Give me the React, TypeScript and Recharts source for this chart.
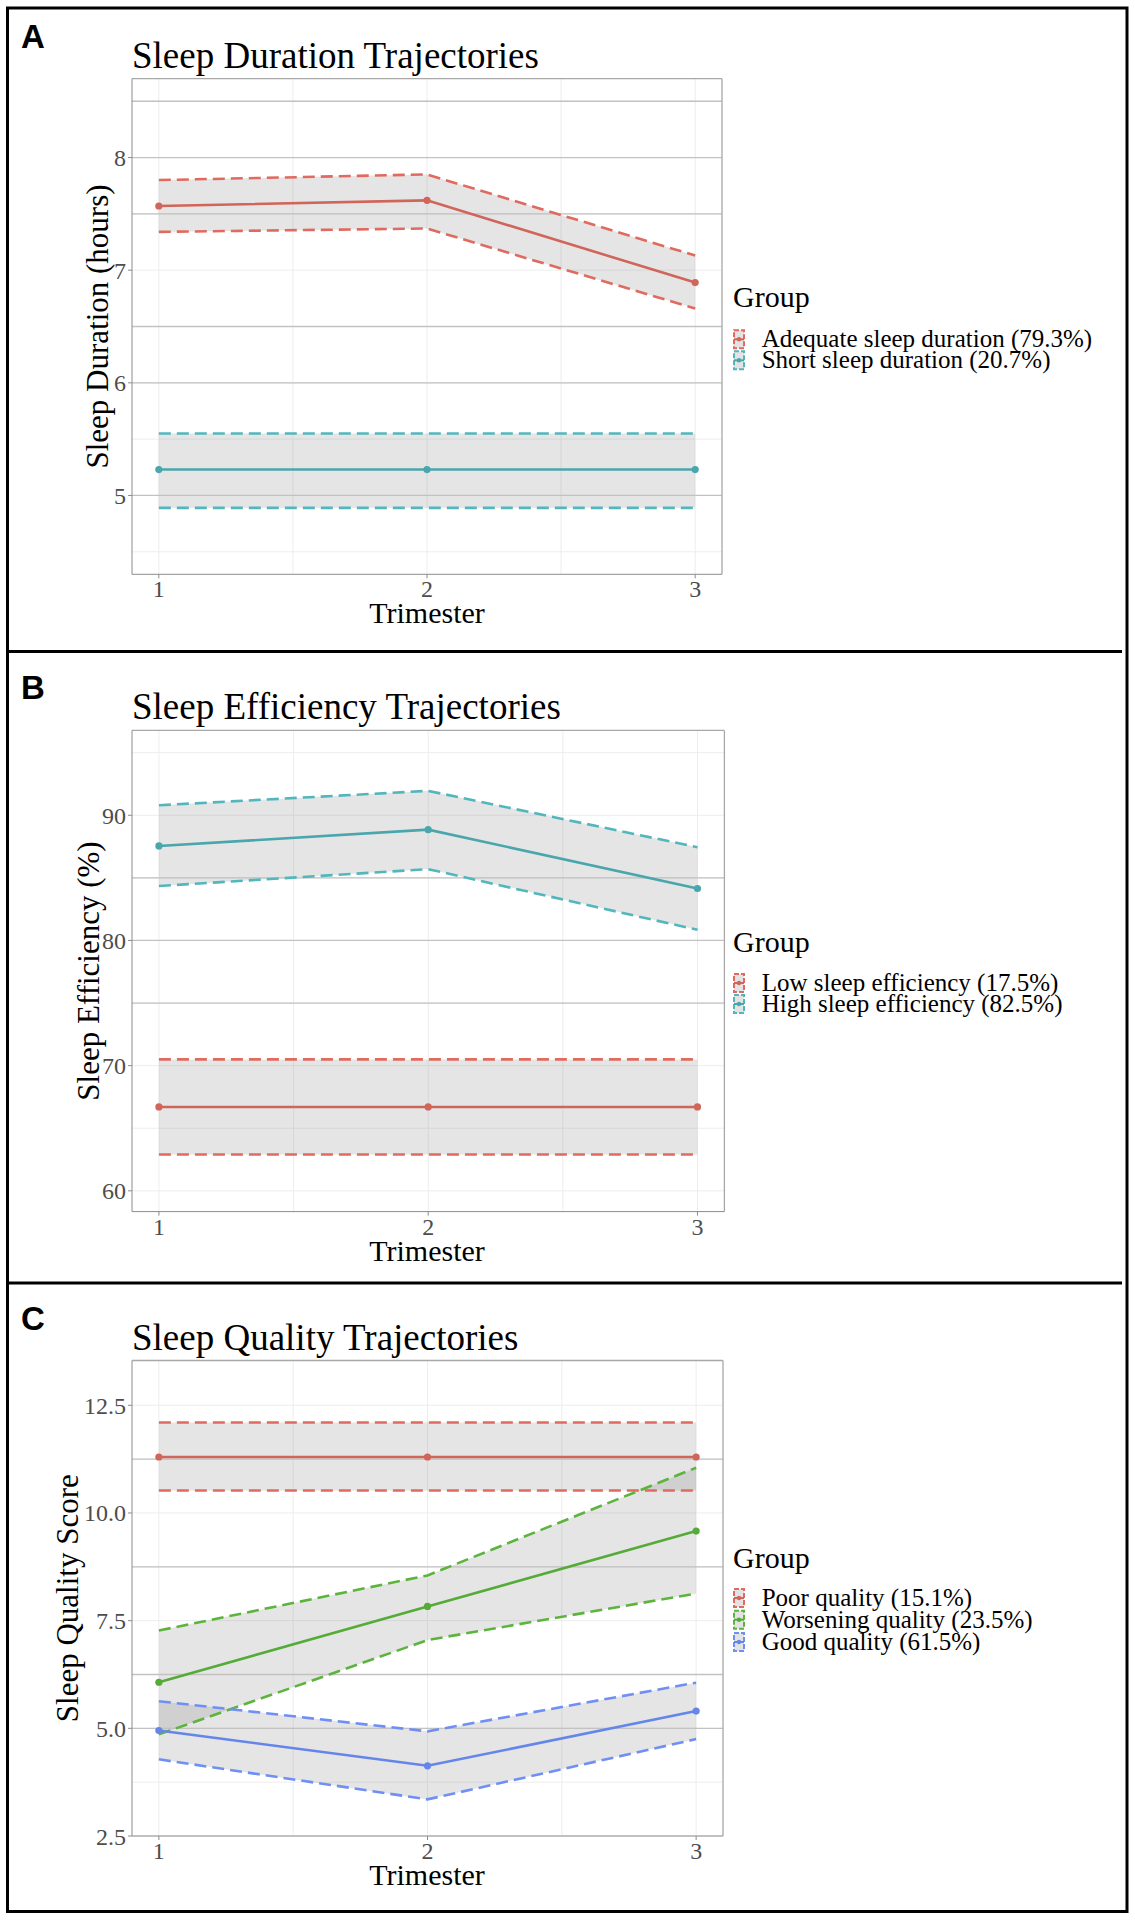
import {
  ComposedChart,
  Line,
  Area,
  XAxis,
  YAxis,
  CartesianGrid,
  ReferenceLine,
  Legend,
} from "recharts";

const SERIF = "'Liberation Serif', 'Times New Roman', serif";
const SANS = "'Liberation Sans', Arial, sans-serif";

const trimesters = [1, 2, 3];

// A: sleep duration (hours)
const adequateMean = [7.57, 7.62, 6.89];
const adequateLower = [7.34, 7.37, 6.66];
const adequateUpper = [7.8, 7.85, 7.13];
const shortMean = [5.23, 5.23, 5.23];
const shortLower = [4.89, 4.89, 4.89];
const shortUpper = [5.55, 5.55, 5.55];

// B: sleep efficiency (%)
const lowEffMean = [66.7, 66.7, 66.7];
const lowEffLower = [62.9, 62.9, 62.9];
const lowEffUpper = [70.5, 70.5, 70.5];
const highEffMean = [87.55, 88.85, 84.15];
const highEffLower = [84.35, 85.7, 80.85];
const highEffUpper = [90.8, 91.95, 87.45];

// C: sleep quality score
const poorMean = [11.3, 11.3, 11.3];
const poorLower = [10.52, 10.52, 10.52];
const poorUpper = [12.1, 12.1, 12.1];
const worseMean = [6.07, 7.83, 9.58];
const worseLower = [4.86, 7.05, 8.13];
const worseUpper = [7.27, 8.55, 11.05];
const goodMean = [4.95, 4.13, 5.4];
const goodLower = [4.28, 3.35, 4.75];
const goodUpper = [5.63, 4.93, 6.06];

// tick labels / grid values
const durationTicks = [5, 6, 7, 8];
const durationGrid = [4.5, 5, 5.5, 6, 6.5, 7, 7.5, 8, 8.5];
const durationDarkGrid = [5, 6, 6.5, 7.5, 8, 8.5];
const efficiencyTicks = [60, 70, 80, 90];
const efficiencyGrid = [60, 65, 70, 75, 80, 85, 90, 95];
const efficiencyDarkGrid = [75, 80, 85];
const qualityTicks = [2.5, 5, 7.5, 10, 12.5];
const qualityGrid = [2.5, 3.75, 5, 6.25, 7.5, 8.75, 10, 11.25, 12.5];
const qualityDarkGrid = [5, 6.25, 8.75, 11.25];
const xGrid = [1, 1.5, 2, 2.5, 3];

const RED = { line: "#d0655a", dash: "#e06a5f" };
const TEAL = { line: "#48a6ac", dash: "#52b6bd" };
const GREEN = { line: "#55ab38", dash: "#5cb43c" };
const BLUE = { line: "#6485ea", dash: "#6f8ff5" };

type Group = {
  key: string;
  name: string;
  line: string;
  dash: string;
  mean: number[];
  lower: number[];
  upper: number[];
};

type PanelConfig = {
  letter: string;
  title: string;
  yLabel: string;
  top: number;
  height: number;
  plotTop: number;
  xAxisH: number;
  right: number;
  domain: [number, number];
  ticks: number[];
  grid: number[];
  darkGrid: number[];
  fmt: (v: number) => string;
  groups: Group[];
  yLabelX: number;
  legendBase: number;
  legendItems: number[];
};

const buildRows = (groups: Group[]) =>
  trimesters.map((t, i) => {
    const row: Record<string, any> = { t };
    groups.forEach((g) => {
      row[g.key + "Mean"] = g.mean[i];
      row[g.key + "Lower"] = g.lower[i];
      row[g.key + "Upper"] = g.upper[i];
      row[g.key + "Band"] = [g.lower[i], g.upper[i]];
    });
    return row;
  });

const panels: PanelConfig[] = [
  {
    letter: "A",
    title: "Sleep Duration Trajectories",
    yLabel: "Sleep Duration (hours)",
    top: 0,
    height: 652,
    plotTop: 78.7,
    xAxisH: 77.7,
    right: 413,
    domain: [4.3, 8.7],
    ticks: durationTicks,
    grid: durationGrid,
    darkGrid: durationDarkGrid,
    fmt: (v) => String(v),
    groups: [
      { key: "adequate", name: "Adequate sleep duration (79.3%)", ...RED, mean: adequateMean, lower: adequateLower, upper: adequateUpper },
      { key: "short", name: "Short sleep duration (20.7%)", ...TEAL, mean: shortMean, lower: shortLower, upper: shortUpper },
    ],
    yLabelX: 108,
    legendBase: 306.7,
    legendItems: [347, 368],
  },
  {
    letter: "B",
    title: "Sleep Efficiency Trajectories",
    yLabel: "Sleep Efficiency (%)",
    top: 652,
    height: 631,
    plotTop: 78.4,
    xAxisH: 71.4,
    right: 410.6,
    domain: [58.34, 96.78],
    ticks: efficiencyTicks,
    grid: efficiencyGrid,
    darkGrid: efficiencyDarkGrid,
    fmt: (v) => String(v),
    groups: [
      { key: "low", name: "Low sleep efficiency (17.5%)", ...RED, mean: lowEffMean, lower: lowEffLower, upper: lowEffUpper },
      { key: "high", name: "High sleep efficiency (82.5%)", ...TEAL, mean: highEffMean, lower: highEffLower, upper: highEffUpper },
    ],
    yLabelX: 99,
    legendBase: 299.7,
    legendItems: [338.7, 359.7],
  },
  {
    letter: "C",
    title: "Sleep Quality Trajectories",
    yLabel: "Sleep Quality Score",
    top: 1283,
    height: 637,
    plotTop: 77.5,
    xAxisH: 84,
    right: 412,
    domain: [2.5, 13.54],
    ticks: qualityTicks,
    grid: qualityGrid,
    darkGrid: qualityDarkGrid,
    fmt: (v) => v.toFixed(1),
    groups: [
      { key: "poor", name: "Poor quality (15.1%)", ...RED, mean: poorMean, lower: poorLower, upper: poorUpper },
      { key: "worse", name: "Worsening quality (23.5%)", ...GREEN, mean: worseMean, lower: worseLower, upper: worseUpper },
      { key: "good", name: "Good quality (61.5%)", ...BLUE, mean: goodMean, lower: goodLower, upper: goodUpper },
    ],
    yLabelX: 78,
    legendBase: 285,
    legendItems: [323, 344.7, 367],
  },
];

// ggplot-ish key: ribbon box with dashed edges, line and point
const KeyGlyph = ({ y, g }: { y: number; g: Group }) => (
  <g>
    <rect x={9} y={y - 17} width={10} height={18} fill="#e3e3e3" stroke={g.dash} strokeWidth={2} strokeDasharray="5 2" />
    <line x1={9} x2={19} y1={y - 8} y2={y - 8} stroke={g.line} strokeWidth={2} />
    <circle cx={14} cy={y - 8} r={2.2} fill={g.line} />
  </g>
);

const GroupLegend = ({ cfg }: { cfg: PanelConfig }) => (
  <svg width={400} height={150} style={{ overflow: "visible" }}>
    <text x={8} y={32} fontFamily={SERIF} fontSize={30} fill="#000">
      Group
    </text>
    {cfg.groups.map((g, i) => {
      const y = 32 + cfg.legendItems[i] - cfg.legendBase;
      return (
        <g key={g.key}>
          <KeyGlyph y={y} g={g} />
          <text x={36.7} y={y} fontFamily={SERIF} fontSize={25} fill="#000">
            {g.name}
          </text>
        </g>
      );
    })}
  </svg>
);

const Panel = ({ cfg }: { cfg: PanelConfig }) => {
  const rows = buildRows(cfg.groups);
  const plotBottom = cfg.height - cfg.xAxisH;
  return (
    <div style={{ position: "absolute", left: 0, top: cfg.top, width: 1135, height: cfg.height }}>
      <ComposedChart
        width={1135}
        height={cfg.height}
        data={rows}
        margin={{ top: cfg.plotTop, right: cfg.right, bottom: 0, left: 0 }}
      >
        <CartesianGrid horizontalValues={cfg.grid} verticalValues={xGrid} stroke="#ededed" strokeWidth={1} />
        {cfg.darkGrid.map((v) => (
          <ReferenceLine key={v} y={v} stroke="#c2c2c2" strokeWidth={1.3} />
        ))}
        <ReferenceLine y={cfg.domain[1]} stroke="#a8a8a8" strokeWidth={1.3} />
        <ReferenceLine x={3.1} stroke="#a8a8a8" strokeWidth={1.3} />
        <XAxis
          type="number"
          dataKey="t"
          domain={[0.9, 3.1]}
          ticks={trimesters}
          allowDataOverflow
          height={cfg.xAxisH}
          tickSize={4}
          tickMargin={2}
          stroke="#8c8c8c"
          tick={{ fill: "#4d4d4d", fontSize: 24, fontFamily: SERIF }}
        />
        <YAxis
          type="number"
          domain={cfg.domain}
          ticks={cfg.ticks}
          allowDataOverflow
          width={132}
          tickSize={4}
          tickMargin={2}
          stroke="#8c8c8c"
          tickFormatter={cfg.fmt}
          tick={{ fill: "#4d4d4d", fontSize: 24, fontFamily: SERIF }}
        />
        {/* confidence ribbons */}
        {cfg.groups.map((g) => (
          <Area
            key={g.key + "Band"}
            type="linear"
            dataKey={g.key + "Band"}
            stroke="none"
            fill="#7f7f7f"
            fillOpacity={0.2}
            dot={false}
            activeDot={false}
            isAnimationActive={false}
          />
        ))}
        {cfg.groups.map((g) =>
          ["Upper", "Lower"].map((side) => (
            <Line
              key={g.key + side}
              type="linear"
              dataKey={g.key + side}
              stroke={g.dash}
              strokeWidth={2.6}
              strokeDasharray="12 6"
              dot={false}
              activeDot={false}
              isAnimationActive={false}
            />
          ))
        )}
        {cfg.groups.map((g) => (
          <Line
            key={g.key + "Mean"}
            type="linear"
            dataKey={g.key + "Mean"}
            stroke={g.line}
            strokeWidth={2.6}
            dot={{ r: 3.6, fill: g.line, stroke: g.line, strokeWidth: 0 }}
            activeDot={false}
            isAnimationActive={false}
          />
        ))}
        <Legend
          layout="vertical"
          align="center"
          verticalAlign="middle"
          wrapperStyle={{ left: 725, top: cfg.legendBase - 32, width: 400, height: 150 }}
          content={() => <GroupLegend cfg={cfg} />}
        />
      </ComposedChart>
      <svg
        width={1135}
        height={cfg.height}
        style={{ position: "absolute", left: 0, top: 0, pointerEvents: "none" }}
      >
        <text x={21} y={cfg.plotTop - 31} fontFamily={SANS} fontWeight="bold" fontSize={33} fill="#000">
          {cfg.letter}
        </text>
        <text x={132} y={cfg.plotTop - 11} fontFamily={SERIF} fontSize={37} fill="#000">
          {cfg.title}
        </text>
        <text
          x={cfg.yLabelX}
          y={(cfg.plotTop + plotBottom) / 2}
          transform={`rotate(-90 ${cfg.yLabelX} ${(cfg.plotTop + plotBottom) / 2})`}
          textAnchor="middle"
          fontFamily={SERIF}
          fontSize={31}
          fill="#000"
        >
          {cfg.yLabel}
        </text>
        <text x={427} y={plotBottom + 49} textAnchor="middle" fontFamily={SERIF} fontSize={30} fill="#000">
          Trimester
        </text>
      </svg>
    </div>
  );
};

export default function App() {
  return (
    <div style={{ position: "absolute", left: 0, top: 0, width: 1135, height: 1920, background: "#fff" }}>
      {panels.map((p) => (
        <Panel key={p.letter} cfg={p} />
      ))}
      {/* figure frame and panel separators */}
      <svg width={1135} height={1920} style={{ position: "absolute", left: 0, top: 0, pointerEvents: "none" }}>
        <rect x={7.5} y={8} width={1119.5} height={1903.5} fill="none" stroke="#000" strokeWidth={3} />
        <line x1={7.5} x2={1122} y1={651.5} y2={651.5} stroke="#000" strokeWidth={3} />
        <line x1={7.5} x2={1122} y1={1283} y2={1283} stroke="#000" strokeWidth={3} />
      </svg>
    </div>
  );
}
